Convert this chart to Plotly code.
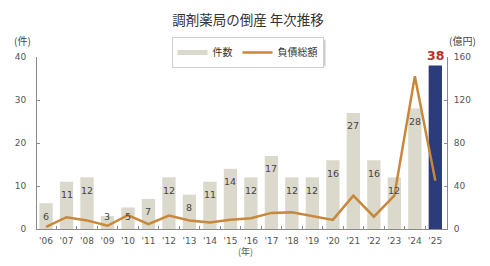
import plotly.graph_objects as go

# Annual bankruptcies of dispensing pharmacies
years = ["'06", "'07", "'08", "'09", "'10", "'11", "'12", "'13", "'14", "'15",
         "'16", "'17", "'18", "'19", "'20", "'21", "'22", "'23", "'24", "'25"]
counts = [6, 11, 12, 3, 5, 7, 12, 8, 11, 14, 12, 17, 12, 12, 16, 27, 16, 12, 28, 38]
debt_oku = [2, 11, 8, 3, 13, 4.5, 12.5, 8, 6, 8.5, 10, 15, 15.5, 12, 8.5, 31, 11.5, 31, 142, 45]

left_ticks = [0, 10, 20, 30, 40]
right_ticks = [0, 40, 80, 120, 160]

BAR = "#dad9cc"
BAR_LAST = "#2c3b7a"
LINE = "#c9873a"
AXIS = "#8a8a8a"
TXT = "#555555"
NUM_FONT = "DejaVu Sans"
JP_FONT = "Noto Sans CJK JP"

W, H = 490, 266
L, R, T, B = 37, 43.3, 56.5, 37

xs = list(range(len(years)))
bar_colors = [BAR] * (len(years) - 1) + [BAR_LAST]

fig = go.Figure()
fig.add_trace(go.Bar(x=xs, y=counts, marker=dict(color=bar_colors, line=dict(width=0)),
                     showlegend=False, hoverinfo="skip"))
# legend swatch for the bars, drawn as a thick line
fig.add_trace(go.Scatter(x=[None], y=[None], mode="lines", name="件数",
                         line=dict(color=BAR, width=5)))
fig.add_trace(go.Scatter(x=xs, y=debt_oku, mode="lines", name="負債総額", yaxis="y2",
                         line=dict(color=LINE, width=2.5)))

annotations = []
for i, v in enumerate(counts[:-1]):
    annotations.append(dict(x=i, y=max(v - 3, 2.8), xref="x", yref="y", text=str(v),
                            showarrow=False, xanchor="center", yanchor="middle",
                            font=dict(family=NUM_FONT, size=9.5, color="#444444")))
annotations.append(dict(x=xs[-1], y=counts[-1], xref="x", yref="y", text=str(counts[-1]),
                        showarrow=False, xanchor="center", yanchor="bottom", yshift=1,
                        font=dict(family=NUM_FONT, size=12.5, color="#b8322a", weight="bold")))

def px_x(p):
    return (p - L) / (W - L - R)

def px_y(p):
    return (H - B - p) / (H - T - B)

def note(text, x, y, size, color):
    return dict(x=px_x(x), y=px_y(y), xref="paper", yref="paper", text=text,
                showarrow=False, xanchor="center", yanchor="middle",
                font=dict(family=JP_FONT, size=size, color=color))

annotations += [
    note("(件)", 23, 40, 10, "#444444"),
    note("(億円)", 462, 40, 10, "#444444"),
    note("(年)", 245, 252, 9, TXT),
]

# legend box geometry (pixels) and its soft drop shadow
LEG_TOP, LEG_BOT, LEG_L, LEG_R = 37, 63, 172, 323
shapes = []
for off, op in [(3, 0.12), (2, 0.18), (1, 0.25)]:
    shapes.append(dict(type="rect", xref="paper", yref="paper", layer="above",
                       x0=px_x(LEG_L + off), x1=px_x(LEG_R + off),
                       y0=px_y(LEG_BOT + off), y1=px_y(LEG_TOP + off),
                       fillcolor=f"rgba(90,90,90,{op})", line=dict(width=0)))

fig.update_layout(
    width=W, height=H,
    margin=dict(l=L, r=R, t=T, b=B, autoexpand=False),
    paper_bgcolor="white", plot_bgcolor="white",
    bargap=0.35,
    title=dict(text="調剤薬局の倒産 年次推移", x=248 / W, xanchor="center",
               y=1 - 20 / H, yanchor="middle",
               font=dict(family=JP_FONT, size=13.5, color="#333333")),
    legend=dict(orientation="h", xref="container", yref="container",
                x=(LEG_L + LEG_R) / 2 / W, xanchor="center", y=1 - LEG_TOP / H, yanchor="top",
                bgcolor="white", bordercolor="#d0d0d0", borderwidth=1,
                font=dict(family=JP_FONT, size=10, color="#333333"),
                itemwidth=30, tracegroupgap=0),
    xaxis=dict(range=[-0.44, 19.57], tickmode="array", tickvals=xs, ticktext=years,
               showgrid=False, zeroline=False, showline=True, linecolor=AXIS, linewidth=1,
               ticks="", ticklabelstandoff=3, tickfont=dict(family=NUM_FONT, size=9, color=TXT),
               minor=dict(tickvals=[i + 0.5 for i in xs[:-1]], ticks="inside",
                          ticklen=3, tickcolor=AXIS)),
    yaxis=dict(range=[0, 40], tickvals=left_ticks, showgrid=False, zeroline=False,
               showline=True, linecolor=AXIS, linewidth=1, ticks="inside", ticklen=3,
               tickcolor=AXIS, ticklabelstandoff=8,
               tickfont=dict(family=NUM_FONT, size=9, color=TXT)),
    yaxis2=dict(range=[0, 160], tickvals=right_ticks, overlaying="y", side="right",
                showgrid=False, zeroline=False, showline=True, linecolor=AXIS, linewidth=1,
                ticks="inside", ticklen=3, tickcolor=AXIS, ticklabelstandoff=4,
                tickfont=dict(family=NUM_FONT, size=9, color=TXT)),
    annotations=annotations,
    shapes=shapes,
)

fig.write_html("out.html")
